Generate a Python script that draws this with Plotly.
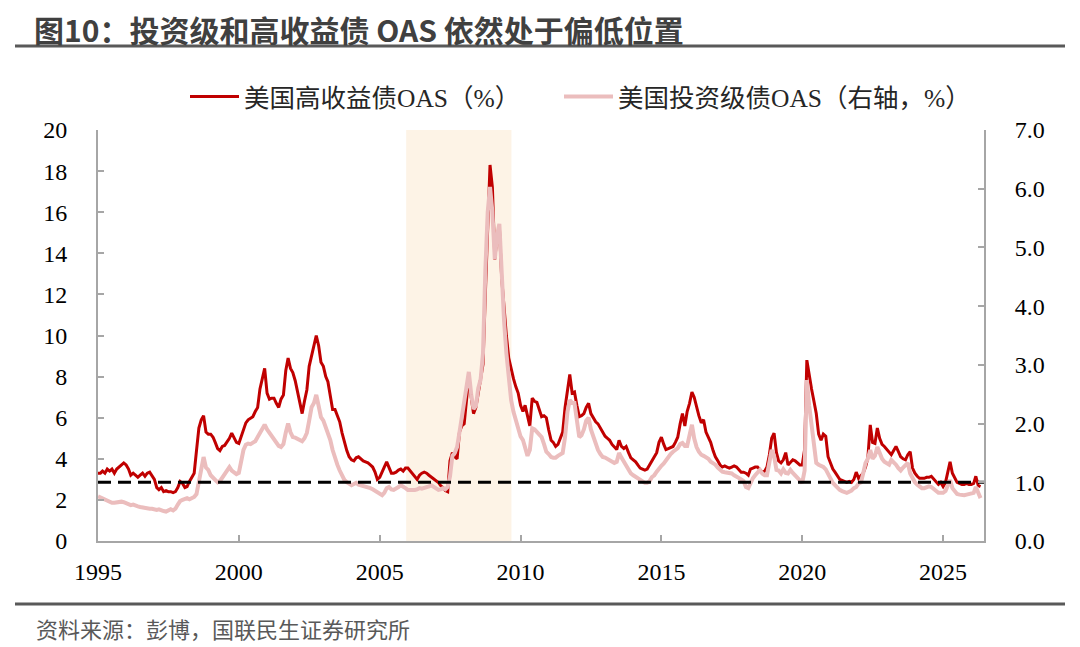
import pandas as pd
import plotly.graph_objects as go

# ---------------- data (monthly) ----------------
hy_oas = [
    3.3, 3.3, 3.4, 3.3, 3.5, 3.4, 3.5, 3.3, 3.5, 3.6, 3.7, 3.8,          # 1995
    3.7, 3.5, 3.2, 3.3, 3.2, 3.1, 3.2, 3.3, 3.15, 3.3, 3.35, 3.2,        # 1996
    3.0, 2.6, 2.5, 2.6, 2.4, 2.45, 2.4, 2.4, 2.35, 2.4, 2.6, 2.9,        # 1997
    2.8, 2.6, 2.65, 2.9, 3.1, 3.3, 4.4, 5.5, 5.9, 6.1, 5.3, 5.2,         # 1998
    5.2, 5.05, 4.8, 4.5, 4.4, 4.6, 4.65, 4.8, 5.0, 5.25, 5.0, 4.8,       # 1999
    4.75, 5.1, 5.5, 5.75, 5.9, 6.0, 6.05, 6.3, 6.5, 7.4, 8.0, 8.4,       # 2000
    7.2, 6.9, 6.95, 6.95, 6.7, 6.5, 6.9, 7.1, 8.3, 8.9, 8.4, 8.2,        # 2001
    7.8, 7.25, 6.7, 6.2, 6.8, 7.35, 8.5, 9.05, 9.6, 10.0, 9.5, 8.7,      # 2002
    8.5, 8.0, 7.75, 7.0, 6.4, 6.4, 6.1, 5.8, 5.25, 4.8, 4.4, 4.1,        # 2003
    3.95, 3.9, 4.05, 4.1, 4.0, 3.9, 3.85, 3.8, 3.7, 3.6, 3.35, 3.0,      # 2004
    3.1, 3.4, 3.6, 3.85, 3.6, 3.3, 3.3, 3.35, 3.45, 3.5, 3.4, 3.55,      # 2005
    3.55, 3.4, 3.3, 3.1, 3.0, 3.2, 3.3, 3.35, 3.3, 3.2, 3.1, 3.05,       # 2006
    2.95, 2.85, 2.7, 2.6, 2.45, 2.4, 3.9, 4.3, 4.1, 4.0, 5.3, 5.6,       # 2007
    5.7, 6.9, 8.0, 7.0, 6.2, 6.5, 7.2, 7.7, 8.6, 12.0, 15.3, 18.3,       # 2008
    17.2, 13.7, 14.8, 15.3, 12.8, 11.3, 10.0, 8.9, 8.3, 7.9, 7.5, 7.2,   # 2009
    6.6, 6.3, 6.6, 6.0, 5.6, 6.95, 6.8, 6.75, 6.4, 6.05, 6.1, 6.0,       # 2010
    5.4, 4.9, 4.8, 4.6, 4.7, 5.0, 5.3, 6.5, 7.2, 8.1, 7.2, 7.25,         # 2011
    6.6, 6.05, 6.1, 6.2, 6.5, 6.7, 6.2, 6.0, 5.8, 5.7, 5.5, 5.25,        # 2012
    5.1, 5.0, 4.9, 4.7, 4.55, 4.45, 4.9, 4.6, 4.5, 4.6, 4.3, 4.05,       # 2013
    3.95, 3.85, 3.7, 3.55, 3.5, 3.45, 3.5, 3.7, 3.95, 4.1, 4.3, 4.8,     # 2014
    5.05, 4.7, 4.45, 4.5, 4.55, 4.6, 4.8, 5.05, 5.7, 6.2, 5.6, 6.3,      # 2015
    6.7, 7.25, 7.0, 6.5, 6.1, 5.75, 5.9, 5.3, 5.05, 4.8, 4.4, 4.1,       # 2016
    3.9, 3.7, 3.6, 3.65, 3.6, 3.55, 3.6, 3.65, 3.6, 3.45, 3.35, 3.35,    # 2017
    3.3, 3.2, 3.5, 3.55, 3.6, 3.6, 3.45, 3.35, 3.4, 3.6, 4.2, 5.0,       # 2018
    5.25, 4.3, 3.9, 3.8, 3.95, 4.3, 3.7, 3.85, 3.95, 3.9, 3.8, 3.7,      # 2019
    3.7, 4.45, 8.8, 8.0, 7.4, 6.8, 6.2, 5.2, 4.9, 5.2, 5.1, 4.1,         # 2020
    3.8, 3.5, 3.35, 3.15, 3.0, 2.95, 2.9, 2.85, 2.9, 2.85, 3.0, 3.35,    # 2021
    3.05, 3.2, 3.3, 3.6, 4.05, 5.65, 4.8, 4.75, 5.5, 5.0, 4.7, 4.6,      # 2022
    4.45, 4.3, 4.2, 4.4, 4.6, 4.35, 4.1, 4.0, 3.95, 4.2, 4.35, 3.55,     # 2023
    3.3, 3.15, 3.05, 3.05, 3.05, 3.1, 3.1, 3.15, 3.0, 2.85, 2.75, 2.85,  # 2024
    2.65, 2.85, 3.3, 3.85, 3.3, 3.05, 2.85, 2.8, 2.75, 2.75, 2.8, 2.75,  # 2025
    2.75, 2.8, 3.15, 2.7, 2.65,                                          # 2026
]

ig_oas = [
    0.76, 0.74, 0.72, 0.70, 0.68, 0.66, 0.65, 0.65, 0.66, 0.67, 0.67, 0.66,  # 1995
    0.64, 0.62, 0.61, 0.62, 0.60, 0.59, 0.58, 0.57, 0.57, 0.56, 0.55, 0.55,  # 1996
    0.54, 0.53, 0.54, 0.52, 0.51, 0.50, 0.53, 0.54, 0.52, 0.55, 0.62, 0.68,  # 1997
    0.70, 0.72, 0.73, 0.71, 0.73, 0.75, 0.80, 1.04, 1.20, 1.43, 1.25, 1.21,  # 1998
    1.12, 1.07, 1.04, 1.00, 1.02, 1.08, 1.16, 1.22, 1.26, 1.20, 1.16, 1.14,  # 1999
    1.16, 1.35, 1.55, 1.64, 1.66, 1.65, 1.67, 1.70, 1.77, 1.85, 1.90, 1.98,  # 2000
    1.90, 1.84, 1.80, 1.72, 1.68, 1.62, 1.60, 1.65, 1.85, 2.00, 1.85, 1.77,  # 2001
    1.76, 1.74, 1.72, 1.70, 1.75, 1.84, 2.05, 2.28, 2.35, 2.49, 2.30, 2.11,  # 2002
    2.05, 1.95, 1.85, 1.72, 1.55, 1.40, 1.30, 1.20, 1.12, 1.04, 1.00, 0.97,  # 2003
    0.95, 0.97, 0.99, 0.96, 0.95, 0.93, 0.92, 0.92, 0.90, 0.88, 0.85, 0.83,  # 2004
    0.80, 0.78, 0.82, 0.90, 0.92, 0.88, 0.87, 0.89, 0.92, 0.95, 0.93, 0.90,  # 2005
    0.87, 0.87, 0.86, 0.87, 0.88, 0.90, 0.89, 0.90, 0.92, 0.93, 0.95, 0.92,  # 2006
    0.88, 0.87, 0.88, 0.90, 0.88, 0.92, 1.10, 1.45, 1.50, 1.60, 1.85, 2.10,  # 2007
    2.35, 2.60, 2.88, 2.50, 2.25, 2.30, 2.60, 2.75, 3.20, 4.60, 5.60, 6.03,  # 2008
    5.60, 4.80, 5.20, 5.40, 4.40, 3.75, 3.20, 2.70, 2.40, 2.20, 2.06, 1.90,  # 2009
    1.78, 1.72, 1.60, 1.45, 1.55, 1.92, 1.90, 1.86, 1.82, 1.77, 1.65, 1.52,  # 2010
    1.48, 1.43, 1.42, 1.42, 1.45, 1.47, 1.50, 1.77, 2.20, 2.40, 2.35, 2.35,  # 2011
    2.10, 1.77, 1.80, 1.90, 2.05, 2.10, 1.90, 1.77, 1.65, 1.55, 1.48, 1.43,  # 2012
    1.42, 1.40, 1.38, 1.35, 1.33, 1.35, 1.50, 1.42, 1.35, 1.26, 1.20, 1.15,  # 2013
    1.12, 1.09, 1.07, 1.04, 1.01, 0.99, 0.99, 1.02, 1.09, 1.12, 1.18, 1.24,  # 2014
    1.28, 1.32, 1.38, 1.42, 1.48, 1.52, 1.55, 1.58, 1.65, 1.67, 1.62, 1.62,  # 2015
    1.80, 1.98, 1.75, 1.60, 1.52, 1.47, 1.45, 1.43, 1.40, 1.35, 1.33, 1.30,  # 2016
    1.25, 1.20, 1.18, 1.17, 1.16, 1.16, 1.15, 1.12, 1.10, 1.07, 1.05, 1.02,  # 2017
    0.92, 0.90, 1.00, 1.07, 1.12, 1.18, 1.21, 1.15, 1.12, 1.12, 1.35, 1.55,  # 2018
    1.45, 1.21, 1.20, 1.15, 1.22, 1.16, 1.15, 1.21, 1.16, 1.12, 1.07, 1.02,  # 2019
    0.99, 1.20, 2.74, 2.30, 1.94, 1.60, 1.33, 1.30, 1.28, 1.26, 1.22, 1.15,  # 2020
    1.05, 0.99, 0.95, 0.90, 0.87, 0.85, 0.84, 0.82, 0.84, 0.86, 0.90, 0.92,  # 2021
    0.98, 1.00, 1.15, 1.33, 1.40, 1.55, 1.40, 1.45, 1.60, 1.50, 1.40, 1.35,  # 2022
    1.33, 1.30, 1.38, 1.35, 1.30, 1.24, 1.20, 1.25, 1.30, 1.33, 1.15, 1.07,  # 2023
    1.00, 0.96, 0.92, 0.90, 0.90, 0.92, 0.93, 0.92, 0.88, 0.84, 0.82, 0.82,  # 2024
    0.82, 0.85, 0.94, 1.04, 0.90, 0.84, 0.80, 0.79, 0.78, 0.78, 0.79, 0.80,  # 2025
    0.80, 0.82, 0.92, 0.80, 0.73,                                            # 2026
]

dates = pd.date_range("1995-01-01", periods=len(hy_oas), freq="MS")

ref_level = 1.0                               # dashed reference (right axis)
x_range = ["1995-01-01", "2026-06-15"]
shade_start, shade_end = "2005-12-10", "2009-09-05"
tick_years = [1995, 2000, 2005, 2010, 2015, 2020, 2025]

name_hy = "美国高收益债OAS（%）"
name_ig = "美国投资级债OAS（右轴，%）"
title_text = "图10：投资级和高收益债 OAS 依然处于偏低位置"
source_text = "资料来源：彭博，国联民生证券研究所"

# ---------------- styling ----------------
RED = "#C00000"
PINK = "#EBBDBD"
AXIS = "#A6A6A6"
SERIF = "Liberation Serif, Noto Sans CJK SC, serif"
SANS = "Noto Sans CJK SC, sans-serif"

W, H = 1080, 647
L, R, T, B = 98, 984, 130, 541
pw, ph = R - L, B - T


def px(xp):
    return (xp - L) / pw


def py(yp):
    return (B - yp) / ph


fig = go.Figure()

fig.add_trace(go.Scatter(
    x=dates, y=hy_oas, name=name_hy, mode="lines",
    line=dict(color=RED, width=3), yaxis="y", legend="legend"))

fig.add_trace(go.Scatter(
    x=dates, y=ig_oas, name=name_ig, mode="lines",
    line=dict(color=PINK, width=4), yaxis="y2", legend="legend2"))

fig.add_trace(go.Scatter(
    x=x_range, y=[ref_level, ref_level], mode="lines", showlegend=False,
    line=dict(color="black", width=3, dash="13px,7px"), yaxis="y2",
    hoverinfo="skip"))

fig.add_vrect(x0=shade_start, x1=shade_end, fillcolor="#FDF3E6",
              line_width=0, layer="below")

tick_vals = [f"{y}-01-01" for y in tick_years]

legend_common = dict(orientation="h", yanchor="middle", xanchor="left",
                     font=dict(family=SERIF, size=25.5, color="#262626"),
                     itemwidth=49, bgcolor="rgba(0,0,0,0)")

fig.update_layout(
    width=W, height=H,
    margin=dict(l=L, r=W - R, t=T, b=H - B),
    paper_bgcolor="white", plot_bgcolor="white",
    showlegend=True,
    legend=dict(x=px(185), y=py(97), **legend_common),
    legend2=dict(x=px(559), y=py(97), **legend_common),
    title=dict(text=f"<b>{title_text}</b>", xref="container", yref="container",
               x=34 / W, y=1 - 31 / H, xanchor="left", yanchor="middle",
               font=dict(family=SANS, size=30, color="#404040")),
    xaxis=dict(type="date", range=x_range, tickvals=tick_vals,
               ticktext=[str(y) for y in tick_years],
               showgrid=False, zeroline=False, showline=True, linecolor=AXIS,
               linewidth=2, ticks="inside", ticklen=6, tickwidth=2, tickcolor=AXIS,
               tickfont=dict(family=SERIF, size=24, color="black"),
               ticklabelstandoff=8),
    yaxis=dict(range=[0, 20], dtick=2, showgrid=False, zeroline=False,
               showline=True, linecolor=AXIS, linewidth=2, ticks="inside",
               ticklen=6, tickwidth=2, tickcolor=AXIS,
               tickfont=dict(family=SERIF, size=24, color="black"),
               ticklabelstandoff=24),
    yaxis2=dict(range=[0, 7], dtick=1, tickformat=".1f", overlaying="y",
                side="right", showgrid=False, zeroline=False, showline=True,
                linecolor=AXIS, linewidth=2, ticks="inside", ticklen=6,
                tickwidth=2, tickcolor=AXIS,
                tickfont=dict(family=SERIF, size=24, color="black"),
                ticklabelstandoff=24),
)

# title rule and footer rule
fig.add_shape(type="line", xref="paper", yref="paper", x0=px(15), x1=px(1065),
              y0=py(46), y1=py(46), line=dict(color="#595959", width=3))
fig.add_shape(type="line", xref="paper", yref="paper", x0=px(15), x1=px(1065),
              y0=py(604), y1=py(604), line=dict(color="#595959", width=3))

fig.add_annotation(text=source_text, xref="paper", yref="paper",
                   x=px(34), y=py(628), xanchor="left", yanchor="middle",
                   showarrow=False, font=dict(family=SANS, size=22, color="#595959"))

fig.write_html("out.html")
